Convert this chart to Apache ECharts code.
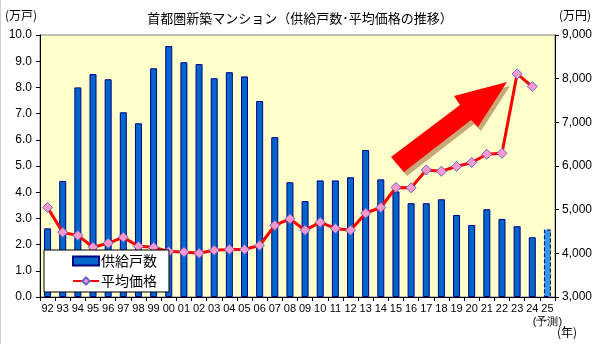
<!DOCTYPE html>
<html><head><meta charset="utf-8">
<script src="https://cdn.jsdelivr.net/npm/echarts@6/dist/echarts.min.js"></script>
<style>html,body{margin:0;padding:0;background:#fff;}#c{width:600px;height:344px;}</style>
</head><body><div id="c"></div>
<script>
const years = ['92','93','94','95','96','97','98','99','00','01','02','03','04','05','06','07','08','09','10','11','12','13','14','15','16','17','18','19','20','21','22','23','24','25'];
const supply = [2.62,4.43,8.00,8.51,8.31,7.05,6.63,8.73,9.58,8.96,8.89,8.35,8.58,8.42,7.48,6.10,4.38,3.66,4.45,4.45,4.57,5.61,4.49,4.03,3.58,3.58,3.73,3.13,2.75,3.35,2.98,2.70,2.28,2.58];
const price = [5050,4480,4410,4140,4230,4370,4160,4140,4040,4030,4000,4070,4090,4090,4180,4640,4790,4530,4710,4570,4530,4920,5050,5510,5500,5910,5880,5990,6080,6270,6290,8110,7820,null];
const leftTicks = [0,1,2,3,4,5,6,7,8,9,10];
const rightTicks = [3000,4000,5000,6000,7000,8000,9000];
const forecastIndex = 33;

const numFont = "'Liberation Sans Narrow','Liberation Sans',sans-serif";
const jpFont = "'Noto Sans CJK JP',sans-serif";

const chart = echarts.init(document.getElementById('c'), null, {renderer:'canvas'});
const barData = supply.map((v,i)=> i===forecastIndex ? {value:v, itemStyle:{color:'#3399E6', borderColor:'#000080', borderType:'dashed', borderWidth:1}} : v);

// arrow polygon (decoration)
const arrow = [[391,157],[460,105],[454,96],[507,82],[478,127],[471,120],[404,172]];
const shadow = arrow.map(p=>[p[0]+3,p[1]+4]);

chart.setOption({
  animation:false,
  backgroundColor:'#ffffff',
  grid:{left:40,right:45,top:35,bottom:47,show:true,backgroundColor:'#FFFFCC',borderColor:'#808080',borderWidth:1},
  title:{text:'首都圏新築マンション（供給戸数･平均価格の推移）',left:'center',top:7,textStyle:{fontFamily:jpFont,fontSize:13,fontWeight:'normal',color:'#000'}},
  legend:{left:44,top:250,orient:'vertical',backgroundColor:'#fff',borderColor:'#000',borderWidth:1,borderRadius:0,z:10,
    padding:[4,12,4,28],itemGap:6,itemWidth:26,itemHeight:9,
    textStyle:{fontFamily:jpFont,fontSize:14,color:'#000',padding:[0,0,0,-3]},
    data:[{name:'供給戸数',icon:'rect'},{name:'平均価格'}]},
  xAxis:{type:'category',data:years,
    axisLine:{lineStyle:{color:'#000',width:1}},
    axisTick:{show:true,length:4,lineStyle:{color:'#000'}},
    axisLabel:{margin:5,fontFamily:numFont,fontSize:11,color:'#000',interval:0,
      formatter:(v)=> v==='25' ? '25\n(予測)' : v, lineHeight:13}},
  yAxis:[
    {type:'value',min:0,max:10,interval:1,position:'left',
      axisLine:{show:true,lineStyle:{color:'#000'}},axisTick:{show:true,length:4,lineStyle:{color:'#000'}},
      splitLine:{show:false},
      axisLabel:{margin:8,fontFamily:numFont,fontSize:12,color:'#000',formatter:(v)=>v.toFixed(1)}},
    {type:'value',min:3000,max:9000,interval:1000,position:'right',
      axisLine:{show:true,lineStyle:{color:'#000'}},axisTick:{show:true,length:4,lineStyle:{color:'#000'}},
      splitLine:{show:false},
      axisLabel:{margin:7,fontFamily:numFont,fontSize:12,color:'#000',formatter:(v)=>v.toLocaleString('en-US')}}
  ],
  series:[
    {name:'供給戸数',type:'bar',yAxisIndex:0,data:barData,barWidth:7,
      itemStyle:{color:'#0066CC',borderColor:'#000080',borderWidth:1}},
    {name:'平均価格',type:'line',yAxisIndex:1,data:price,
      lineStyle:{color:'#FF0000',width:3},symbol:'diamond',symbolSize:10,
      itemStyle:{color:'#FF99CC',borderColor:'#6666CC',borderWidth:1}}
  ],
  graphic:[
    {type:'text',left:5,top:9,style:{text:'(万戸)',font:"12px "+jpFont,fill:'#000'}},
    {type:'text',left:559,top:9,style:{text:'(万円)',font:"12px "+jpFont,fill:'#000'}},
    {type:'text',left:557,top:326,style:{text:'(年)',font:"12px "+jpFont,fill:'#000'}},
    {type:'line',shape:{x1:0.5,y1:0,x2:0.5,y2:344},style:{stroke:'#d0d0d0',lineWidth:1}},
    {type:'polygon',shape:{points:shadow},style:{fill:'#C8A878'},z:10},
    {type:'polygon',shape:{points:arrow},style:{fill:'#FF0000'},z:11}
  ]
});
</script></body></html>
